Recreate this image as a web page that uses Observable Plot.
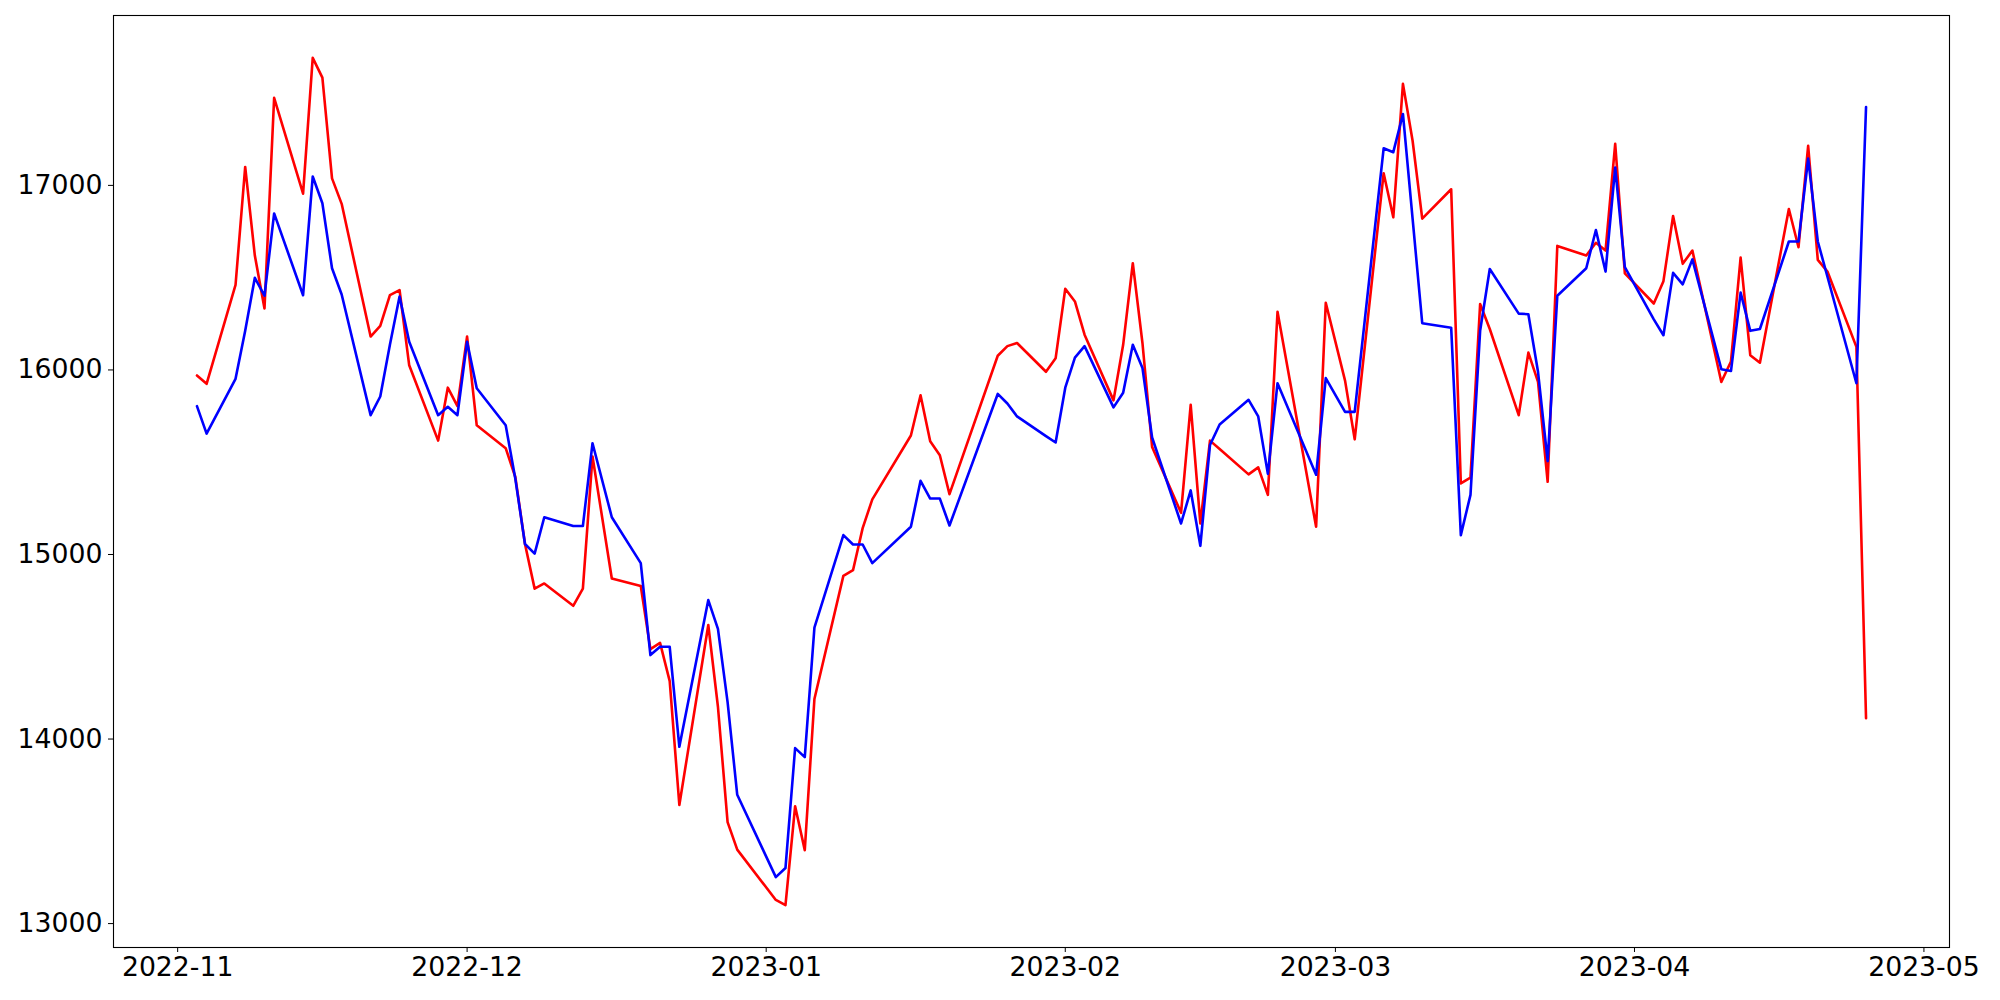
<!DOCTYPE html>
<html>
<head>
<meta charset="utf-8">
<script src="https://cdn.jsdelivr.net/npm/d3@7"></script>
<script src="https://cdn.jsdelivr.net/npm/@observablehq/plot@0.6"></script>
<style>
  html, body { margin: 0; padding: 0; background: white; }
  #chart { width: 2000px; height: 1000px; }
</style>
</head>
<body>
<div id="chart"></div>
<script>
const dates = [
  "2022-11-03","2022-11-04","2022-11-07","2022-11-08","2022-11-09","2022-11-10","2022-11-11",
  "2022-11-14","2022-11-15","2022-11-16","2022-11-17","2022-11-18",
  "2022-11-21","2022-11-22","2022-11-23","2022-11-24","2022-11-25",
  "2022-11-28","2022-11-29","2022-11-30","2022-12-01","2022-12-02",
  "2022-12-05","2022-12-06","2022-12-07","2022-12-08","2022-12-09",
  "2022-12-12","2022-12-13","2022-12-14","2022-12-16",
  "2022-12-19","2022-12-20","2022-12-21","2022-12-22","2022-12-23",
  "2022-12-26","2022-12-27","2022-12-28","2022-12-29",
  "2023-01-02","2023-01-03","2023-01-04","2023-01-05","2023-01-06",
  "2023-01-09","2023-01-10","2023-01-11","2023-01-12",
  "2023-01-16","2023-01-17","2023-01-18","2023-01-19","2023-01-20",
  "2023-01-25","2023-01-26","2023-01-27","2023-01-30","2023-01-31",
  "2023-02-01","2023-02-02","2023-02-03",
  "2023-02-06","2023-02-07","2023-02-08","2023-02-09","2023-02-10",
  "2023-02-13","2023-02-14","2023-02-15","2023-02-16","2023-02-17",
  "2023-02-20","2023-02-21","2023-02-22","2023-02-23",
  "2023-02-27","2023-02-28","2023-03-02","2023-03-03",
  "2023-03-06","2023-03-07","2023-03-08","2023-03-09","2023-03-10",
  "2023-03-13","2023-03-14","2023-03-15","2023-03-16","2023-03-17",
  "2023-03-20","2023-03-21","2023-03-22","2023-03-23","2023-03-24",
  "2023-03-27","2023-03-28","2023-03-29","2023-03-30","2023-03-31",
  "2023-04-03","2023-04-04","2023-04-05","2023-04-06","2023-04-07",
  "2023-04-10","2023-04-11","2023-04-12","2023-04-13","2023-04-14",
  "2023-04-17","2023-04-18","2023-04-19","2023-04-20","2023-04-21",
  "2023-04-24","2023-04-25"
];

const redValues = [
  15970,15925,16461,17100,16620,16333,17474,
  16955,17691,17584,17038,16900,
  16181,16239,16405,16433,16025,
  15617,15904,15804,16181,15700,
  15576,15420,15057,14815,14843,
  14722,14815,15531,14870,
  14829,14487,14521,14314,13643,
  14618,14175,13550,13401,
  13128,13100,13636,13398,14217,
  14884,14915,15143,15299,
  15645,15863,15614,15538,15327,
  16077,16129,16146,15990,16063,
  16440,16371,16191,
  15835,16136,16578,16146,15583,
  15226,15811,15168,15617,15572,
  15434,15472,15323,16315,
  15150,16364,15942,15624,
  17066,16827,17550,17242,16820,
  16979,15385,15417,16357,16222,
  15755,16094,15935,15394,16672,
  16620,16689,16647,17225,16523,
  16360,16481,16834,16575,16647,
  15935,16046,16609,16080,16039,
  16872,16665,17214,16596,16533,
  16125,14113
];

const blueValues = [
  15804,15655,15952,16212,16499,16402,16848,
  16405,17048,16903,16551,16409,
  15755,15856,16136,16398,16153,
  15755,15800,15755,16153,15901,
  15700,15410,15057,15005,15202,
  15154,15154,15603,15202,
  14953,14455,14500,14500,13958,
  14753,14597,14200,13698,
  13252,13301,13951,13902,14604,
  15105,15054,15054,14953,
  15150,15399,15303,15303,15157,
  15870,15818,15748,15641,15607,
  15904,16067,16129,
  15797,15876,16136,16011,15634,
  15168,15347,15047,15593,15704,
  15838,15748,15437,15928,
  15432,15956,15773,15773,
  17201,17180,17387,16820,16253,
  16229,15105,15323,16212,16547,
  16305,16302,15990,15506,16402,
  16551,16758,16533,17097,16557,
  16274,16188,16526,16464,16599,
  16004,15994,16419,16212,16222,
  16696,16696,17145,16696,16505,
  15928,17425
];

const monthTicks = ["2022-11","2022-12","2023-01","2023-02","2023-03","2023-04","2023-05"];
const yTicks = [13000, 14000, 15000, 16000, 17000];

const parseDay = d3.utcParse("%Y-%m-%d");
const parseMonth = d3.utcParse("%Y-%m");
const rows = dates.map((d, i) => ({date: parseDay(d), red: redValues[i], blue: blueValues[i]}));

const [x0, x1] = d3.extent(rows, r => r.date);
const xPad = (x1 - x0) * 0.05;
const [y0, y1] = d3.extent(redValues.concat(blueValues));
const yPad = (y1 - y0) * 0.05;

const chart = Plot.plot({
  width: 2000,
  height: 1000,
  marginLeft: 113,
  marginRight: 51,
  marginTop: 15,
  marginBottom: 53,
  style: {fontFamily: "DejaVu Sans", fontSize: "26.7px", background: "white", color: "black"},
  x: {
    type: "utc",
    domain: [new Date(+x0 - xPad), new Date(+x1 + xPad)],
    ticks: monthTicks.map(parseMonth),
    tickFormat: d3.utcFormat("%Y-%m"),
    tickSize: 5,
    tickPadding: 4.5,
    label: null
  },
  y: {
    domain: [y0 - yPad, y1 + yPad],
    ticks: yTicks,
    tickFormat: d => String(d),
    tickSize: 5,
    tickPadding: 6,
    label: null
  },
  marks: [
    Plot.lineY(rows, {x: "date", y: "red", stroke: "red", strokeWidth: 2.6}),
    Plot.lineY(rows, {x: "date", y: "blue", stroke: "blue", strokeWidth: 2.6}),
    Plot.frame({stroke: "black", strokeWidth: 1.1})
  ]
});
document.getElementById("chart").appendChild(chart);
</script>
</body>
</html>
